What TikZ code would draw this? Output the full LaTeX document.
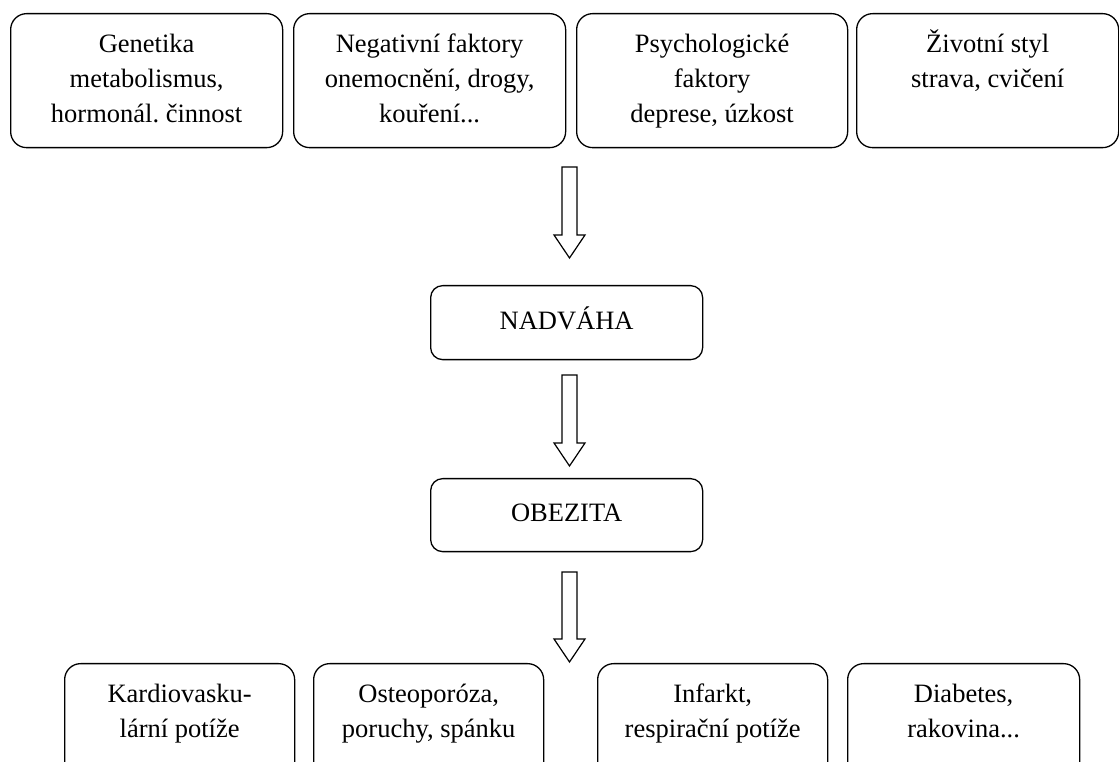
\documentclass[tikz,border=0pt]{standalone}
\usepackage{fontspec}
\setmainfont{Liberation Serif}
\frenchspacing
\usetikzlibrary{calc}
\tikzset{
  x=1pt, y=1pt,
  box/.style={draw=black, line width=1.3pt, rounded corners=16pt, inner sep=0pt, anchor=north west},
  smallbox/.style={box, rounded corners=12pt},
  txt/.style={inner sep=0pt, anchor=base, font=\fontsize{26.5}{35}\selectfont},
  arrowline/.style={draw=black, line width=1.2pt, line join=miter, fill=white},
}
\newcommand\myblockarrow[2]{% #1 = start coordinate name, #2 = tip coordinate name
  \draw[arrowline]
    ($(#1)+(-7.5,0)$) -- ($(#1)+(7.5,0)$) -- ($(#2)+(7.5,23)$) -- ($(#2)+(15.5,23)$)
    -- (#2) -- ($(#2)+(-15.5,23)$) -- ($(#2)+(-7.5,23)$) -- cycle;
}
\begin{document}
\begin{tikzpicture}
\useasboundingbox (0,0) rectangle (1119,762);
\clip (0,0) rectangle (1119,762);
\fill[white] (0,0) rectangle (1119,762);

% top row
\node[box, minimum width=272pt, minimum height=134pt] (t1) at (10,749) {};
\node[box, minimum width=272pt, minimum height=134pt] (t2) at (293,749) {};
\node[box, minimum width=271pt, minimum height=134pt] (t3) at (576,749) {};
\node[box, minimum width=262pt, minimum height=134pt] (t4) at (856,749) {};

\node[txt] (t1t) at ($(t1.north)+(0,-40)$) {\parbox[t]{265pt}{\centering Genetika\\metabolismus,\\hormonál. činnost}};
\node[txt] (t2t) at ($(t2.north)+(0,-40)$) {\parbox[t]{265pt}{\centering Negativní faktory\\onemocnění, drogy,\\kouření...}};
\node[txt] (t3t) at ($(t3.north)+(0,-40)$) {\parbox[t]{265pt}{\centering Psychologické\\faktory\\deprese, úzkost}};
\node[txt] (t4t) at ($(t4.north)+(0,-40)$) {\parbox[t]{255pt}{\centering Životní styl\\strava, cvičení}};

% middle
\node[smallbox, minimum width=272pt, minimum height=74pt] (nad) at (430,477) {};
\node[txt] (nadt) at ($(nad.north)+(0,-45)$) {NADVÁHA};
\node[smallbox, minimum width=272pt, minimum height=73pt] (obe) at (430,284) {};
\node[txt] (obet) at ($(obe.north)+(0,-44)$) {OBEZITA};

% bottom row
\node[box, minimum width=230pt, minimum height=140pt] (b1) at (64,99) {};
\node[box, minimum width=230pt, minimum height=140pt] (b2) at (313,99) {};
\node[box, minimum width=230pt, minimum height=140pt] (b3) at (597,99) {};
\node[box, minimum width=232pt, minimum height=140pt] (b4) at (847,99) {};

\node[txt] (b1t) at ($(b1.north)+(0,-39.5)$) {\parbox[t]{225pt}{\centering Kardiovasku-\\lární potíže}};
\node[txt] (b2t) at ($(b2.north)+(0,-39.5)$) {\parbox[t]{225pt}{\centering Osteoporóza,\\poruchy, spánku}};
\node[txt] (b3t) at ($(b3.north)+(0,-39.5)$) {\parbox[t]{225pt}{\centering Infarkt,\\respirační potíže}};
\node[txt] (b4t) at ($(b4.north)+(0,-39.5)$) {\parbox[t]{225pt}{\centering Diabetes,\\rakovina...}};

% arrows
\coordinate (a1s) at (569.5,595);
\coordinate (a1e) at (569.5,504);
\coordinate (a2s) at (569.5,387);
\coordinate (a2e) at (569.5,296);
\coordinate (a3s) at (569.5,190);
\coordinate (a3e) at (569.5,100);
\myblockarrow{a1s}{a1e}
\myblockarrow{a2s}{a2e}
\myblockarrow{a3s}{a3e}
\end{tikzpicture}
\end{document}
